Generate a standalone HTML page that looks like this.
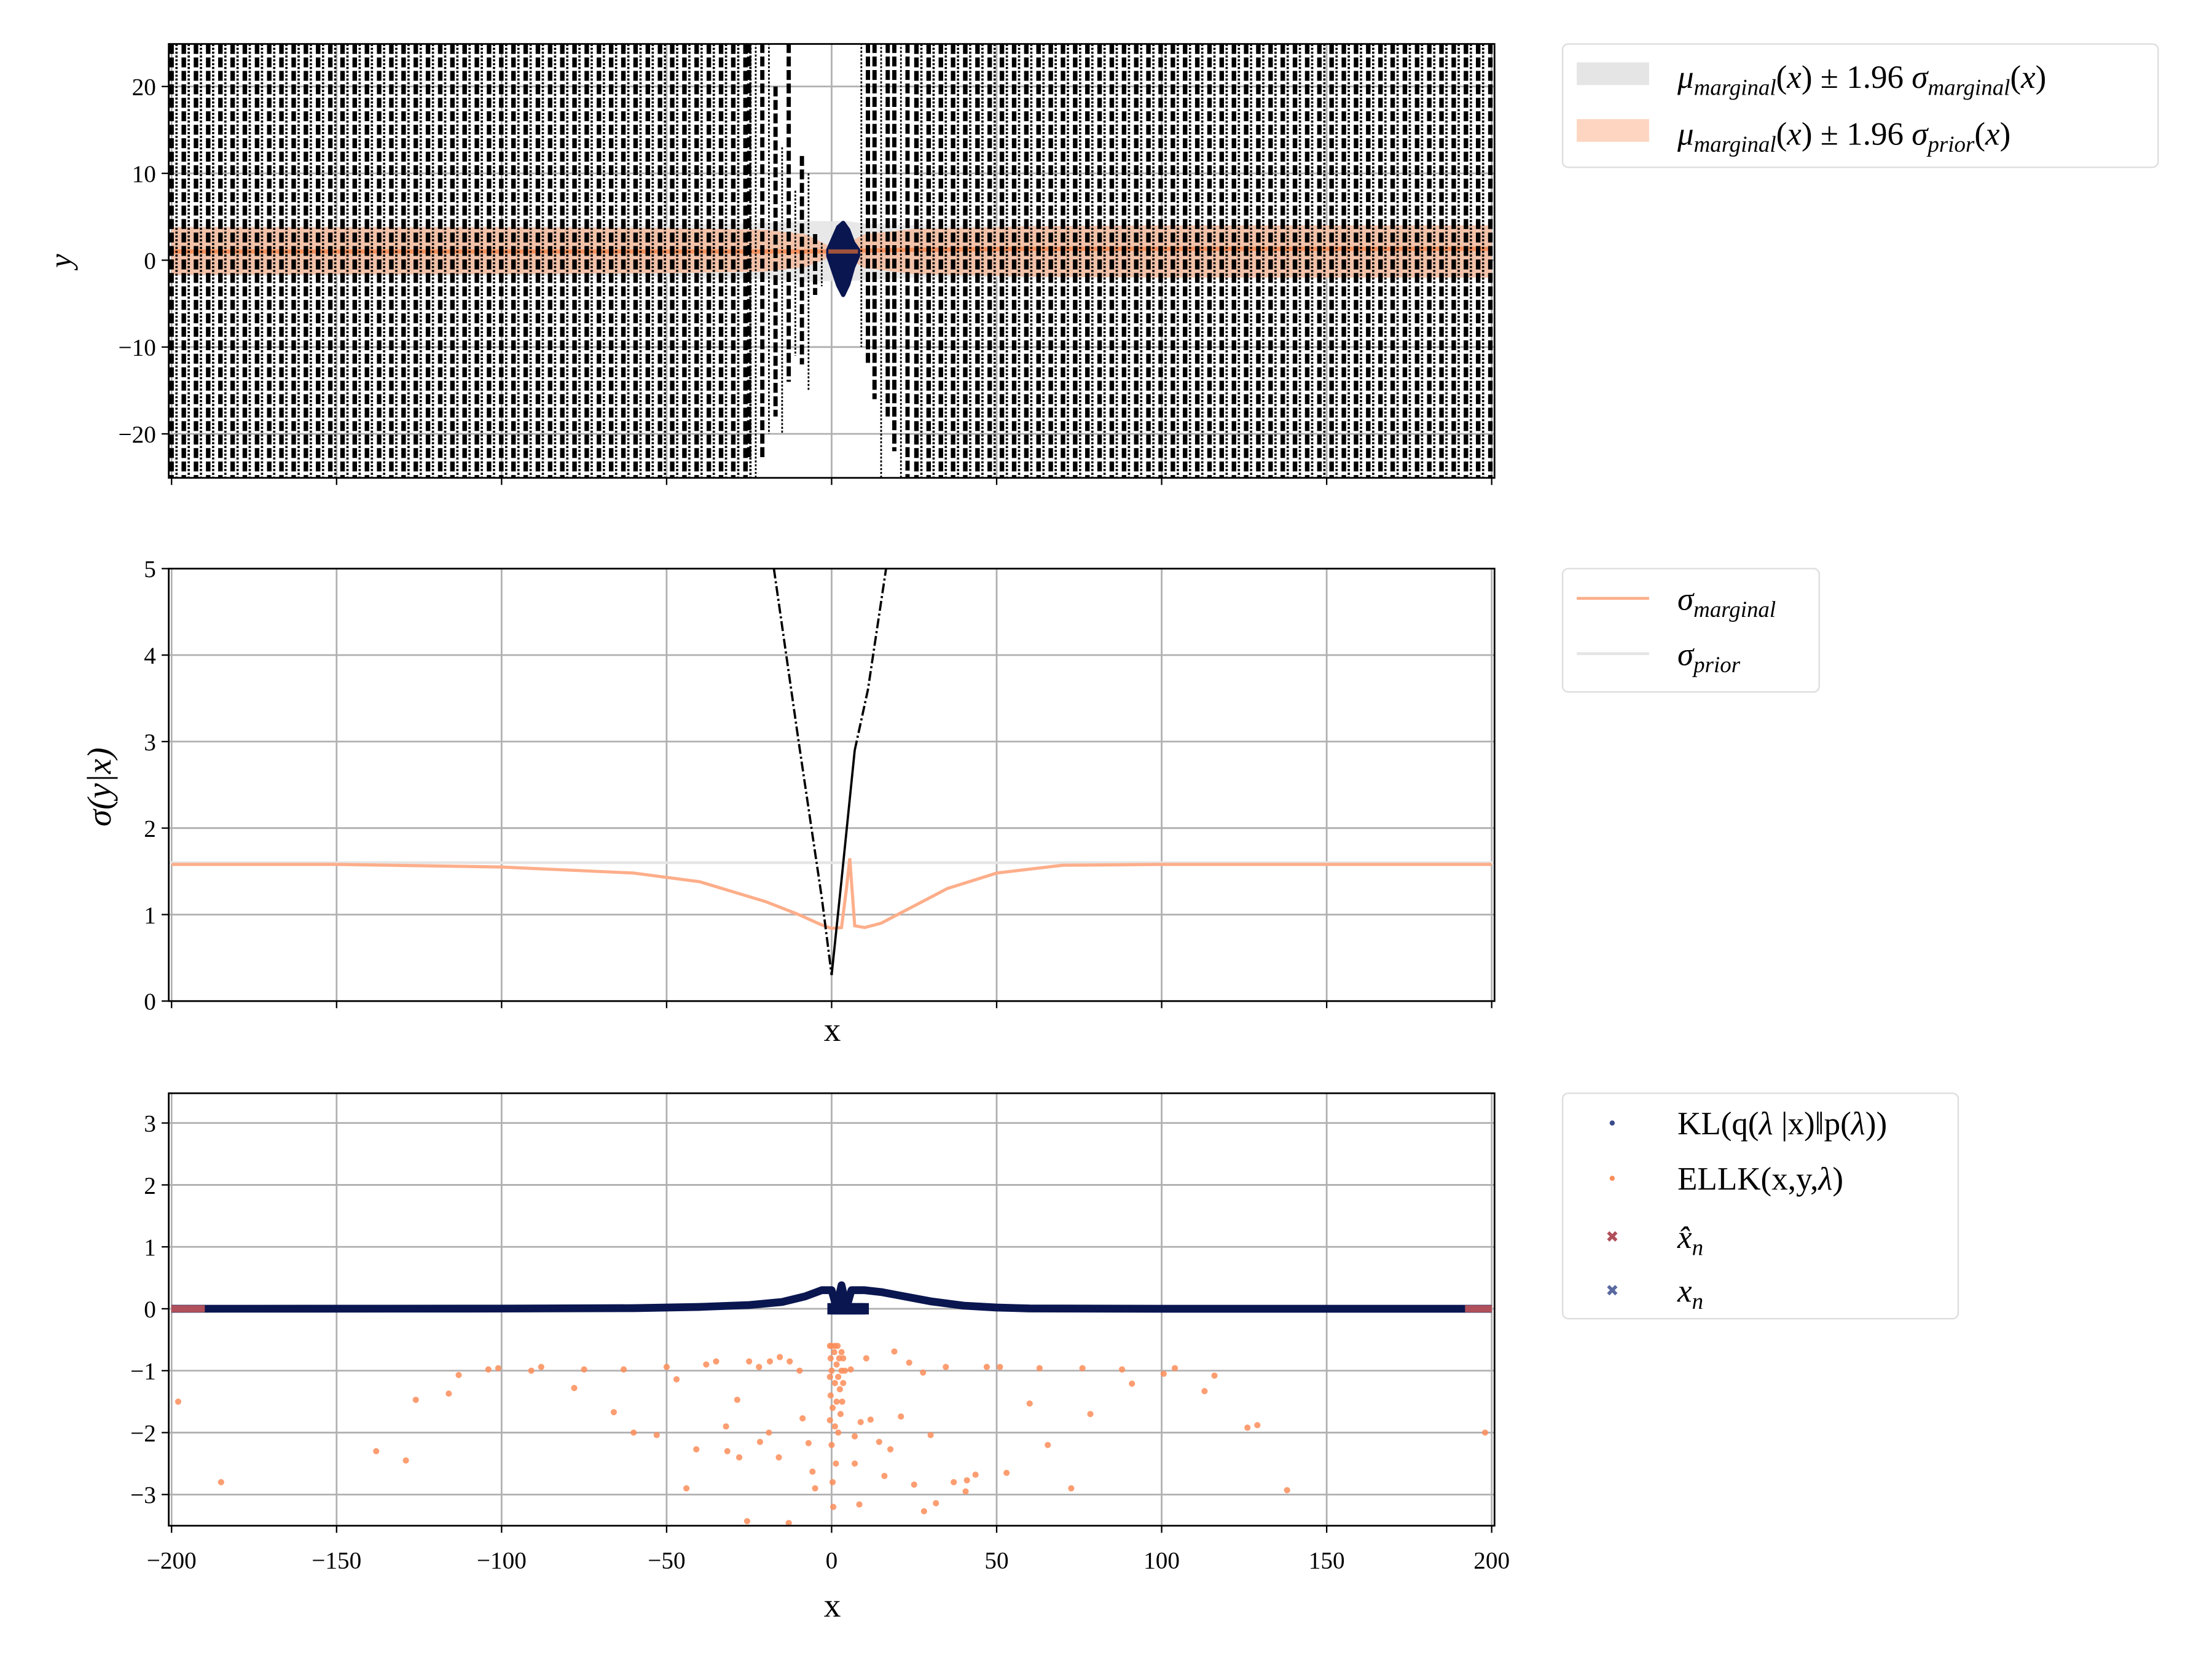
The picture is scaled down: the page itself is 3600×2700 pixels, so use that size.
<!DOCTYPE html>
<html><head><meta charset="utf-8">
<style>
html,body{margin:0;padding:0;background:#fff;}
svg{display:block;}
text{font-family:"Liberation Serif",serif;fill:#000;}
.tick{font-size:17px;}
.it{font-style:italic;}
</style></head>
<body>
<svg id="fig" width="3600" height="2700" viewBox="0 0 1560 1170" xmlns="http://www.w3.org/2000/svg">
<rect x="0" y="0" width="1560" height="1170" fill="#fff"/>
<g id="p1"></g>
<g id="p2"></g>
<g id="p3"></g>

<text x="50" y="184" font-size="22" class="it" text-anchor="middle" transform="rotate(-90 50 184)">y</text>
<text x="78" y="555" font-size="24" class="it" text-anchor="middle" transform="rotate(-90 78 555)">σ(y|x)</text>
<text x="587" y="734" font-size="24" text-anchor="middle">x</text>
<text x="587" y="1140" font-size="24" text-anchor="middle">x</text>

<g>
<rect x="1102" y="31" width="420" height="87" rx="4" fill="#fff" stroke="#ddd"/>
<rect x="1112" y="44" width="51" height="16" fill="#e5e5e5"/>
<text x="1183" y="62" font-size="23"><tspan class="it">μ</tspan><tspan class="it" font-size="16" dy="5">marginal</tspan><tspan dy="-5">(</tspan><tspan class="it">x</tspan>) ± 1.96 <tspan class="it">σ</tspan><tspan class="it" font-size="16" dy="5">marginal</tspan><tspan dy="-5">(</tspan><tspan class="it">x</tspan>)</text>
<rect x="1112" y="84" width="51" height="16" fill="#fdd5c0"/>
<text x="1183" y="102" font-size="23"><tspan class="it">μ</tspan><tspan class="it" font-size="16" dy="5">marginal</tspan><tspan dy="-5">(</tspan><tspan class="it">x</tspan>) ± 1.96 <tspan class="it">σ</tspan><tspan class="it" font-size="16" dy="5">prior</tspan><tspan dy="-5">(</tspan><tspan class="it">x</tspan>)</text>
</g>

<g>
<rect x="1102" y="401" width="181" height="87" rx="4" fill="#fff" stroke="#ddd"/>
<line x1="1112" y1="422" x2="1163" y2="422" stroke="#fdae8a" stroke-width="2"/>
<text x="1183" y="430" font-size="23"><tspan class="it">σ</tspan><tspan class="it" font-size="16" dy="5">marginal</tspan></text>
<line x1="1112" y1="461" x2="1163" y2="461" stroke="#e5e5e5" stroke-width="2"/>
<text x="1183" y="469" font-size="23"><tspan class="it">σ</tspan><tspan class="it" font-size="16" dy="5">prior</tspan></text>
</g>

<g>
<rect x="1102" y="771" width="279" height="159" rx="4" fill="#fff" stroke="#ddd"/>
<circle cx="1137" cy="792" r="1.8" fill="#3a4a8a"/>
<text x="1183" y="800" font-size="23">KL(q(<tspan class="it">λ</tspan> |x)‖p(<tspan class="it">λ</tspan>))</text>
<circle cx="1137" cy="831" r="1.8" fill="#fc8d59"/>
<text x="1183" y="839" font-size="23">ELLK(x,y,<tspan class="it">λ</tspan>)</text>
<text x="1137" y="876" font-size="11" text-anchor="middle" style="fill:#b0505a">✖</text>
<text x="1183" y="880" font-size="23" class="it">x̂<tspan font-size="16" dy="5">n</tspan></text>
<text x="1137" y="914" font-size="11" text-anchor="middle" style="fill:#5a6aa0">✖</text>
<text x="1183" y="918" font-size="23" class="it">x<tspan font-size="16" dy="5">n</tspan></text>
</g>
</svg>
<script>
// ---------- data ----------
const xTicks = [-200,-150,-100,-50,0,50,100,150,200];
const xTickLabels = ["−200","−150","−100","−50","0","50","100","150","200"];
const topYTicks = [20,10,0,-10,-20];
const topYTickLabels = ["20","10","0","−10","−20"];
const midYTicks = [0,1,2,3,4,5];
const botYTicks = [3,2,1,0,-1,-2,-3];
const botYTickLabels = ["3","2","1","0","−1","−2","−3"];

const bandX = [-200,-100,-50,-20,-8,0,5,10,25,60,100,200];
const bandPriorHi = [3.8,3.8,3.7,3.5,3.0,1.5,2.0,3.0,3.6,3.9,4.0,4.0];
const bandPriorLo = [-1.7,-1.6,-1.5,-1.3,-0.8,0.4,0.2,-0.9,-1.6,-1.9,-2.0,-2.0];
const bandMargHi = [3.9,3.9,4.0,4.3,4.5,4.5,4.5,4.2,4.0,4.0,4.0,4.0];
const bandMargLo = [-1.8,-1.8,-1.9,-2.2,-2.5,-2.4,-2.4,-2.3,-2.0,-2.0,-2.0,-2.0];
const meanY = [1.0,1.0,1.0,1.0,1.0,1.0,1.2,1.1,1.2,1.3,1.3,1.3];
const oscX = [-25,-23,-21,-19,-17,-15,-13,-11,-9,-7,-5,-3,9,11,13,15,17,19,21,23];
const oscTop = [25,25,25,25,20,13,25,8,12,10,3,2,25,25,25,25,25,25,25,25];
const oscBot = [-23,-25,-23,-20,-18,-20,-14,-11,-12,-15,-4,-3,-10,-12,-16,-25,-18,-22,-25,-25];
const oscStyle = ["dash","dot","dash","dot","dash","dot","dash","dot","dash","dot","dash","dot","dot","dash","dash","dot","dash","dash","dot","dash"];
const blobX = [-1,0.5,2,3.5,5,6.5,8];
const blobHi = [1.2,2.5,3.8,4.3,3.5,2,1.2];
const blobLo = [0.5,-1.2,-2.9,-4,-2.8,-0.8,0.5];

const sigX = [-200,-150,-100,-60,-40,-20,-10,-3,0,3,4.5,5.5,7,10,15,25,35,50,70,100,200];
const sigMarg = [1.58,1.58,1.55,1.48,1.38,1.15,1.0,0.88,0.84,0.85,1.3,1.65,0.87,0.85,0.9,1.1,1.3,1.48,1.57,1.58,1.58];
const sigPrior = 1.6;
const vX = [-17.5,-10,-3,0,3,7,11,16.5];
const vY = [5.0,3.0,1.2,0.3,1.4,2.9,3.6,5.0];

const klX = [-200,-100,-60,-40,-25,-15,-8,-3,0,1.5,3,4.5,6,10,15,20,30,40,50,60,100,200];
const klY = [0,0.003,0.01,0.03,0.06,0.11,0.2,0.3,0.3,0.02,0.38,0.02,0.3,0.3,0.27,0.22,0.12,0.05,0.02,0.005,0,0];
const ellkX = [-198,-185,-138,-129,-126,-116,-113,-104,-101,-91,-88,-78,-75,-66,-63,-60,-53,-50,-47,-44,-41,-38,-35,-32,-31.6,-28.6,-28,-25.6,-25,-22,-21.7,-19,-18.7,-16,-15.7,-13,-12.7,-9.7,-8.8,-7,-5.8,-5,
 -0.5,-0.5,-0.5,-0.3,-0.3,0,0,0,0.3,0.3,0.5,0.8,1,1,1,1.3,1.5,1.5,1.8,2,2,2.3,2.5,2.7,3,3,3.2,3.5,3.5,4,
 5.8,7,7,8.4,8.8,10.5,11.8,14.4,16,17.8,19,21,23.5,25,27.7,28,30,31.6,34.6,37,40.6,41,43.6,47,51,53,60,63,65.5,72.6,76,78.4,88,91,100.6,104,113,116,126,129,138,198];
const ellkY = [-1.5,-2.8,-2.3,-2.45,-1.47,-1.37,-1.07,-0.98,-0.96,-1.0,-0.94,-1.28,-0.98,-1.67,-0.98,-2.0,-2.04,-0.94,-1.14,-2.9,-2.27,-0.9,-0.85,-1.9,-2.3,-1.47,-2.4,-3.43,-0.85,-0.94,-2.15,-2.0,-0.85,-2.4,-0.78,-3.46,-0.85,-1.0,-1.77,-2.17,-2.63,-2.9,
 -0.6,-1.1,-1.8,-0.8,-1.4,-0.6,-1.0,-2.2,-1.6,-2.8,-3.2,-0.7,-0.6,-1.2,-1.9,-2.5,-0.9,-1.5,-0.6,-1.1,-2.0,-0.8,-1.3,-1.7,-0.7,-1.0,-1.5,-0.8,-1.2,-1.0,
 -0.98,-2.5,-2.06,-3.16,-1.83,-0.8,-1.79,-2.15,-2.7,-2.27,-0.69,-1.74,-0.87,-2.84,-1.03,-3.27,-2.04,-3.14,-0.94,-2.8,-2.95,-2.77,-2.68,-0.94,-0.94,-2.65,-1.53,-0.96,-2.2,-2.9,-0.96,-1.7,-0.98,-1.21,-1.05,-0.96,-1.33,-1.08,-1.92,-1.88,-2.93,-2.0];
const xhatX = [-199,-197,-195,-193,-191,193,195,197,199];
const xnX = [0,1,2,3,4,5,6,7,8,9,10];

// ---------- helpers ----------
const NS = "http://www.w3.org/2000/svg";
const X0 = 119, X1 = 1054;
const sx = v => 586.5 + v * 2.3275;
function mk(tag, parent, attrs) {
  const e = document.createElementNS(NS, tag);
  for (const k in attrs) e.setAttribute(k, attrs[k]);
  parent.appendChild(e);
  return e;
}
function frame(g, top, bot, yScale, yt, ytl) {
  for (const t of xTicks) {
    const l = mk("line", g, {x1: sx(t), x2: sx(t), y1: top, y2: bot, stroke: "#b0b0b0", "stroke-width": 1.2});
    
    
  }
  yt.forEach((t, i) => {
    const y = yScale(t);
    const l = mk("line", g, {x1: X0, x2: X1, y1: y, y2: y, stroke: "#b0b0b0", "stroke-width": 1.2});
    
    
    mk("line", g, {x1: X0 - 5, x2: X0, y1: y, y2: y, stroke: "#000", "stroke-width": 1});
    const tx = mk("text", g, {x: X0 - 9, y: y + 6, "text-anchor": "end", class: "tick"});
    tx.textContent = ytl[i];
    
    
  });
}
function border(g, top, bot, labels) {
  const r = mk("rect", g, {x: X0, y: top, width: X1 - X0, height: bot - top, fill: "none", stroke: "#000", "stroke-width": 1.2});
  
  
  xTicks.forEach((t, i) => {
    mk("line", g, {x1: sx(t), x2: sx(t), y1: bot, y2: bot + 5, stroke: "#000", "stroke-width": 1});
    if (labels) {
      const tx = mk("text", g, {x: sx(t), y: bot + 30, "text-anchor": "middle", class: "tick"});
      tx.textContent = xTickLabels[i];
      
      
    }
  });
}
function poly(xs, ys, xf, yf) { return xs.map((v, i) => (i ? "L" : "M") + xf(v).toFixed(2) + "," + yf(ys[i]).toFixed(2)).join(""); }

// ---------- top panel ----------
const p1 = document.getElementById("p1");
const T0 = 31, T1 = 337;
const sy1 = v => 183.5 - v * 6.125;
const clipT = mk("clipPath", p1, {id: "clipT"});
mk("rect", clipT, {x: X0, y: T0, width: X1 - X0, height: T1 - T0});
frame(p1, T0, T1, sy1, topYTicks, topYTickLabels);
const g1 = mk("g", p1, {"clip-path": "url(#clipT)"});
const marg = mk("path", g1, {d: poly(bandX, bandMargHi, sx, sy1) + poly(bandX.slice().reverse(), bandMargLo.slice().reverse(), sx, sy1).replace("M", "L") + "Z", fill: "#e5e5e5", opacity: 0.9});


const pri = mk("path", g1, {d: poly(bandX, bandPriorHi, sx, sy1) + poly(bandX.slice().reverse(), bandPriorLo.slice().reverse(), sx, sy1).replace("M", "L") + "Z", fill: "#f4b898", opacity: 0.8});


const ml = mk("path", g1, {d: poly(bandX, meanY, sx, sy1), fill: "none", stroke: "#f4915e", "stroke-width": 3});


for (let x = -200; x <= 200; x += 3.7) {
  if (x > -26 && x < 24) continue;
  const d = mk("line", g1, {x1: sx(x), x2: sx(x), y1: T0, y2: T1, stroke: "#000", "stroke-width": 3.2, "stroke-dasharray": "7,2.5"});
  
  
  const o = mk("line", g1, {x1: sx(x + 1.5), x2: sx(x + 1.5), y1: T0, y2: T1, stroke: "#000", "stroke-width": 1.6, "stroke-dasharray": "1.5,1.2"});
  
  
}
oscX.forEach((x, i) => {
  const dash = oscStyle[i] === "dash";
  const l = mk("line", g1, {x1: sx(x), x2: sx(x), y1: sy1(oscTop[i]), y2: sy1(oscBot[i]), stroke: "#000", "stroke-width": dash ? 3 : 1.2, "stroke-dasharray": dash ? "7,2.5" : "1.5,1.2"});
  
  
});
const blob = mk("path", g1, {d: poly(blobX, blobHi, sx, sy1) + poly(blobX.slice().reverse(), blobLo.slice().reverse(), sx, sy1).replace("M", "L") + "Z", fill: "#0a1650", stroke: "#0a1650", "stroke-width": 3, "stroke-linejoin": "round"});


mk("path", g1, {d: poly(blobX, blobX.map(() => 1), sx, sy1), stroke: "#a0523c", "stroke-width": 3, fill: "none"});
border(p1, T0, T1, false);

// ---------- middle panel ----------
const p2 = document.getElementById("p2");
const M0 = 401, M1 = 706;
const sy2 = v => 706 - v * 61;
const clipM = mk("clipPath", p2, {id: "clipM"});
mk("rect", clipM, {x: X0, y: M0, width: X1 - X0, height: M1 - M0});
frame(p2, M0, M1, sy2, midYTicks, midYTicks.map(String));
const g2 = mk("g", p2, {"clip-path": "url(#clipM)"});
const pl = mk("line", g2, {x1: X0, x2: X1, y1: sy2(sigPrior), y2: sy2(sigPrior), stroke: "#e5e5e5", "stroke-width": 2});


const sm = mk("path", g2, {d: poly(sigX, sigMarg, sx, sy2), fill: "none", stroke: "#fdae8a", "stroke-width": 2.2});


const vl = mk("path", g2, {d: poly(vX.slice(0, 4), vY.slice(0, 4), sx, sy2), fill: "none", stroke: "#000", "stroke-width": 1.6, "stroke-dasharray": "7,2,1.5,2"});


const vr = mk("path", g2, {d: poly(vX.slice(3, 6), vY.slice(3, 6), sx, sy2), fill: "none", stroke: "#000", "stroke-width": 1.6});


const vr2 = mk("path", g2, {d: poly(vX.slice(5), vY.slice(5), sx, sy2), fill: "none", stroke: "#000", "stroke-width": 1.6, "stroke-dasharray": "7,2,1.5,2"});


border(p2, M0, M1, false);

// ---------- bottom panel ----------
const p3 = document.getElementById("p3");
const B0 = 771, B1 = 1076;
const sy3 = v => 923 - v * 43.67;
const clipB = mk("clipPath", p3, {id: "clipB"});
mk("rect", clipB, {x: X0, y: B0, width: X1 - X0, height: B1 - B0});
frame(p3, B0, B1, sy3, botYTicks, botYTickLabels);
const g3 = mk("g", p3, {"clip-path": "url(#clipB)"});
ellkX.forEach((x, i) => {
  const c = mk("circle", g3, {cx: sx(x), cy: sy3(ellkY[i]), r: 2.2, fill: "#fc8d59", opacity: 0.85});
  
  
});
const kl = mk("path", g3, {d: poly(klX, klY, sx, sy3), fill: "none", stroke: "#0a1650", "stroke-width": 5.5, "stroke-linejoin": "round"});


xnX.forEach(x => {
  const m = mk("rect", g3, {x: sx(x) - 3, y: sy3(0) - 4, width: 6, height: 8, fill: "#0a1650"});
  
  
});
xhatX.forEach(x => {
  const m = mk("rect", g3, {x: sx(x) - 2.5, y: sy3(0) - 2.5, width: 5, height: 5, fill: "#b0505a"});
  
  
});
border(p3, B0, B1, true);
</script>
</body></html>
